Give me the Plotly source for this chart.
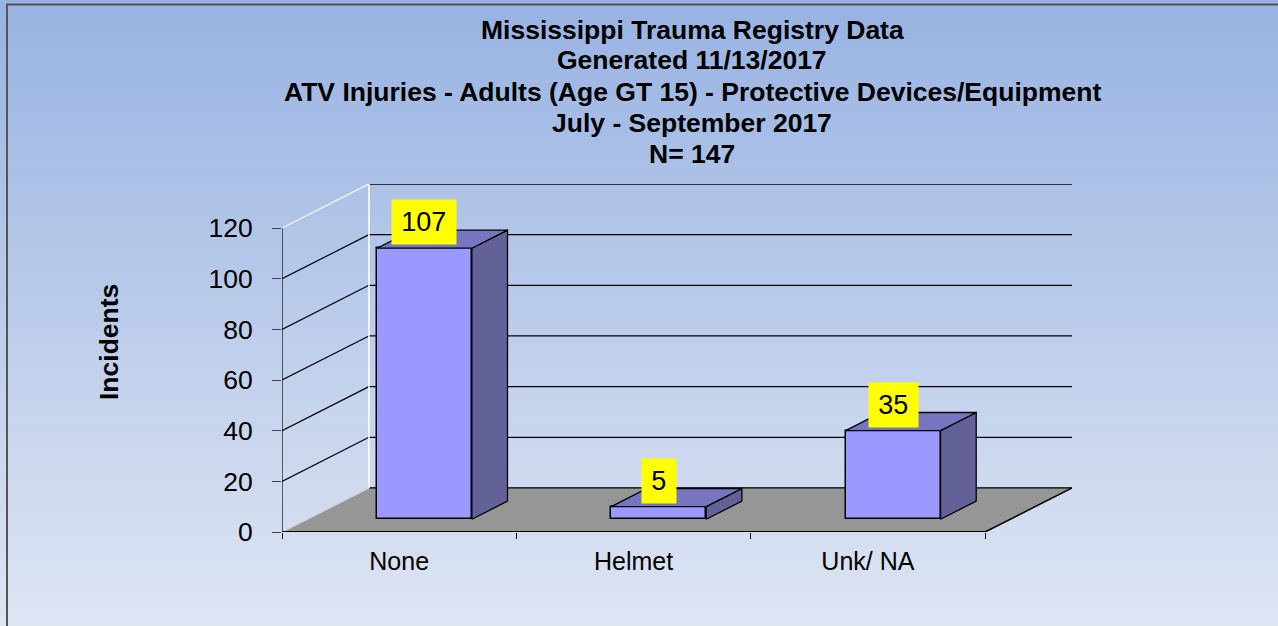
import plotly.graph_objects as go

# data
categories = ["None", "Helmet", "Unk/ NA"]
incidents = [107, 5, 35]
y_ticks = [0, 20, 40, 60, 80, 100, 120]
title_lines = [
    "Mississippi Trauma Registry Data",
    "Generated 11/13/2017",
    "ATV Injuries - Adults (Age GT 15) - Protective Devices/Equipment",
    "July - September 2017",
    "N= 147",
]

W, H = 1278, 626
ML, MR, MT, MB = 282, 206, 184, 94
FONT = "Arial, Liberation Sans, sans-serif"


def px(x):
    # figure pixel -> paper x
    return (x - ML) / (W - ML - MR)


def py(y):
    # figure pixel (from top) -> paper y
    return (H - MB - y) / (H - MT - MB)


# fake 3d geometry (in axis units)
DX, DY = 0.371, 17.4      # depth offset of the back wall
F1, F2 = 0.29, 0.70       # front / back depth of bars
BW = 0.405                # bar width
X0, X1 = -0.5, len(categories) - 0.5
YMAX = max(y_ticks)

fig = go.Figure()

shapes = []
# background gradient
top, bot = (152, 179, 226), (222, 229, 243)
n = 90
for i in range(n):
    t = i / (n - 1)
    c = tuple(round(top[k] + (bot[k] - top[k]) * t) for k in range(3))
    shapes.append(dict(type="rect", xref="paper", yref="paper", layer="below",
                       x0=px(-5), x1=px(W + 5), y0=py((i + 1) * H / n + 1), y1=py(i * H / n),
                       fillcolor="rgb(%d,%d,%d)" % c, line=dict(width=0)))
# chart border
shapes.append(dict(type="rect", xref="paper", yref="paper", layer="below",
                   x0=px(7), x1=px(W + 10), y0=py(H + 10), y1=py(4.5),
                   line=dict(color="#555555", width=2), fillcolor="rgba(0,0,0,0)"))

# floor
shapes.append(dict(type="path", layer="below",
                   path="M %f,0 L %f,0 L %f,%f L %f,%f Z" % (X0, X1, X1 + DX, DY, X0 + DX, DY),
                   fillcolor="#969696", line=dict(color="#969696", width=1)))


def seg(x0, y0, x1, y1, color="black", width=1.3):
    shapes.append(dict(type="line", layer="below", x0=x0, y0=y0, x1=x1, y1=y1,
                       line=dict(color=color, width=width)))


for v in y_ticks:
    seg(X0 + DX, v + DY, X1 + DX, v + DY)
    col = "white" if v == YMAX else ("#dddddd" if v == 0 else "black")
    seg(X0, v, X0 + DX, v + DY, col, 1.2)
seg(X0 + DX, DY, X0 + DX, YMAX + DY, "white", 1.5)
seg(X0, 0, X0, YMAX, "black", 1.2)
seg(X1, 0, X1 + DX, DY, "black", 1.5)
seg(X0, 0, X1, 0, "black", 2.2)

# bar front faces
xs = list(range(len(categories)))
fig.add_trace(go.Bar(x=[x + F1 * DX for x in xs], y=incidents, base=F1 * DY, width=BW,
                     marker=dict(color="#9999FF", line=dict(color="black", width=1.5)),
                     hoverinfo="skip", showlegend=False))

# side and top faces
for x, v in zip(xs, incidents):
    l, r = x - BW / 2, x + BW / 2
    fig.add_trace(go.Scatter(
        x=[r + F1 * DX, r + F2 * DX, r + F2 * DX, r + F1 * DX, r + F1 * DX],
        y=[F1 * DY, F2 * DY, v + F2 * DY, v + F1 * DY, F1 * DY],
        fill="toself", fillcolor="#626299", mode="lines",
        line=dict(color="black", width=1.3), hoverinfo="skip", showlegend=False))
    fig.add_trace(go.Scatter(
        x=[l + F1 * DX, r + F1 * DX, r + F2 * DX, l + F2 * DX, l + F1 * DX],
        y=[v + F1 * DY, v + F1 * DY, v + F2 * DY, v + F2 * DY, v + F1 * DY],
        fill="toself", fillcolor="#7575C0", mode="lines",
        line=dict(color="black", width=1.3), hoverinfo="skip", showlegend=False))

annotations = []
for x, v in zip(xs, incidents):
    annotations.append(dict(x=x + F1 * DX, y=v + F1 * DY, text="\u200a%d\u200a" % v,
                            showarrow=False, yanchor="bottom", yshift=3,
                            bgcolor="#FFFF00", borderpad=7,
                            font=dict(family=FONT, size=27, color="black")))

title_y = [30, 60, 92, 123, 154]
for txt, yp in zip(title_lines, title_y):
    annotations.append(dict(xref="paper", yref="paper", x=px(692), y=py(yp),
                            text="<b>%s</b>" % txt, showarrow=False,
                            xanchor="center", yanchor="middle",
                            font=dict(family=FONT, size=26.5, color="black")))

annotations.append(dict(xref="paper", yref="paper", x=px(109), y=py(342),
                        text="<b>Incidents</b>", textangle=-90, showarrow=False,
                        xanchor="center", yanchor="middle",
                        font=dict(family=FONT, size=26.5, color="black")))

fig.update_layout(
    width=W, height=H, autosize=False,
    margin=dict(l=ML, r=MR, t=MT, b=MB, pad=0),
    paper_bgcolor="#DEE5F3", plot_bgcolor="rgba(0,0,0,0)",
    font=dict(family=FONT, color="black"),
    shapes=shapes, annotations=annotations,
    xaxis=dict(range=[X0, X1 + DX], tickvals=xs, ticktext=categories, ticks="",
               showgrid=False, zeroline=False, showline=False,
               tickfont=dict(size=25), ticklabelstandoff=12,
               minor=dict(tickmode="array", tickvals=[X0 + i for i in range(len(categories) + 1)],
                          ticks="outside", ticklen=6, tickcolor="black", tickwidth=1, showgrid=False)),
    yaxis=dict(range=[0, YMAX + DY], tickvals=y_ticks, ticks="outside", ticklen=9,
               tickcolor="#444444", showgrid=False, zeroline=False, showline=False,
               tickfont=dict(size=26.5), ticklabelstandoff=14),
    bargap=0,
)

fig.write_html("out.html", config={"displayModeBar": False},
               post_script="document.body.style.margin='0px';")
